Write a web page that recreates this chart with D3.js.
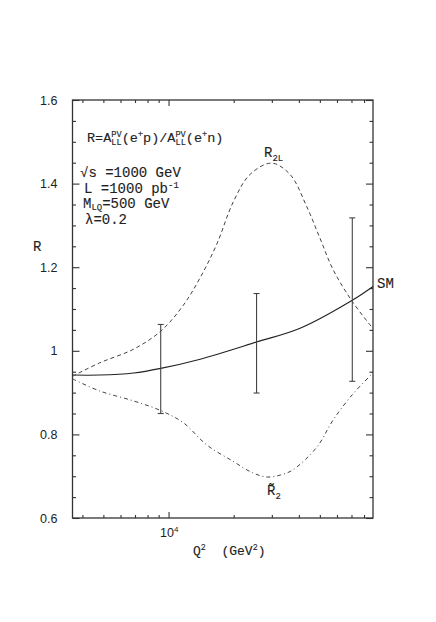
<!DOCTYPE html>
<html>
<head>
<meta charset="utf-8">
<script src="https://cdn.jsdelivr.net/npm/d3@7"></script>
<style>
  body { margin: 0; background: #fff; }
  .mono { font-family: "Liberation Mono", "DejaVu Sans Mono", monospace; fill: #222; stroke: #222; stroke-width: 0.12px; }
  .tick text { font-family: "Liberation Sans", Arial, sans-serif; font-size: 12.5px; fill: #222; }
</style>
</head>
<body>
<script>
// chart size
var w = 436;
var h = 622;

// Q^2 grid (GeV^2) and curve values
const smQ2 = [3600, 4800, 6900, 9200, 14000, 25500, 40500, 70600, 88000];
const smR = [0.942, 0.942, 0.947, 0.958, 0.980, 1.021, 1.054, 1.121, 1.154];

const r2lQ2 = [3600, 4800, 6900, 9200, 11700, 14000, 16700, 19900, 23800, 29900, 36400, 43400, 50000, 57600, 70600, 88000];
const r2lR = [0.939, 0.971, 1.004, 1.047, 1.109, 1.175, 1.255, 1.356, 1.422, 1.449, 1.422, 1.346, 1.270, 1.194, 1.118, 1.053];

const r2tQ2 = [3600, 4800, 6900, 9200, 11700, 15000, 19800, 24500, 28500, 33000, 37500, 48500, 57500, 70600, 88000];
const r2tR = [0.933, 0.904, 0.880, 0.857, 0.828, 0.775, 0.736, 0.708, 0.698, 0.703, 0.715, 0.770, 0.834, 0.895, 0.947];

// error bars (centred on SM)
const errQ2 = [9200, 25500, 70600];
const errLo = [0.850, 0.899, 0.927];
const errHi = [1.063, 1.137, 1.318];

// ticks
const yMajor = [0.6, 0.8, 1.0, 1.2, 1.4, 1.6];
const xMajor = [1e4];
const xMinor = [4000, 5000, 6000, 7000, 8000, 9000, 20000, 30000, 40000, 50000, 60000, 70000, 80000];

// plot box
const pLeft = 72.5, pRight = 373, pTop = 100, pBottom = 518;

const x = d3.scaleLog().domain([3600, 88000]).range([pLeft, pRight]);
const y = d3.scaleLinear().domain([0.6, 1.6]).range([pBottom, pTop]);

const yMinor = d3.range(0.6, 1.6001, 0.05).filter(v => !yMajor.some(m => Math.abs(m - v) < 1e-6));

const svg = d3.select("body").append("svg")
  .attr("width", w)
  .attr("height", h);

// axes, ticks pointing inward
function axis(gen, scale, vals, size, tx, ty, labels) {
  const a = gen(scale).tickValues(vals).tickSize(-size).tickPadding(size + 8);
  if (labels) a.tickFormat(labels); else a.tickFormat("");
  const g = svg.append("g").attr("transform", `translate(${tx},${ty})`).call(a);
  g.select(".domain").remove();
  g.selectAll(".tick line").attr("stroke", "#333").attr("stroke-width", 1.1);
  return g;
}

axis(d3.axisLeft, y, yMajor, 7, pLeft, 0, d3.format("~g"));
axis(d3.axisLeft, y, yMinor, 3.5, pLeft, 0);
axis(d3.axisRight, y, yMajor, 7, pRight, 0);
axis(d3.axisRight, y, yMinor, 3.5, pRight, 0);
axis(d3.axisBottom, x, xMajor, 6, 0, pBottom);
axis(d3.axisBottom, x, xMinor, 3, 0, pBottom);
axis(d3.axisTop, x, xMajor, 6, 0, pTop);
axis(d3.axisTop, x, xMinor, 3, 0, pTop);

// frame
svg.append("rect")
  .attr("x", pLeft).attr("y", pTop)
  .attr("width", pRight - pLeft).attr("height", pBottom - pTop)
  .attr("fill", "none").attr("stroke", "#333").attr("stroke-width", 1.3);

// curves
const line = d3.line()
  .x(d => x(d[0]))
  .y(d => y(d[1]))
  .curve(d3.curveCatmullRom.alpha(0.5));

const curves = [
  { q: smQ2, r: smR, dash: null, color: "#222", width: 1.1 },
  { q: r2lQ2, r: r2lR, dash: "4,3", color: "#444", width: 1 },
  { q: r2tQ2, r: r2tR, dash: "4,3,1,3", color: "#444", width: 1 }
];

svg.selectAll("path.curve")
  .data(curves)
  .enter()
  .append("path")
  .attr("class", "curve")
  .attr("d", c => line(d3.zip(c.q, c.r)))
  .attr("fill", "none")
  .attr("stroke", c => c.color)
  .attr("stroke-width", c => c.width)
  .attr("stroke-dasharray", c => c.dash);

// error bars
const errs = svg.selectAll("g.err")
  .data(errQ2.map((q, i) => ({ q: q, lo: errLo[i], hi: errHi[i] })))
  .enter()
  .append("g")
  .attr("class", "err")
  .attr("stroke", "#444")
  .attr("stroke-width", 1.1);

errs.append("line")
  .attr("x1", d => x(d.q)).attr("x2", d => x(d.q))
  .attr("y1", d => y(d.lo)).attr("y2", d => y(d.hi));
errs.append("line")
  .attr("x1", d => x(d.q) - 3).attr("x2", d => x(d.q) + 3)
  .attr("y1", d => y(d.lo)).attr("y2", d => y(d.lo));
errs.append("line")
  .attr("x1", d => x(d.q) - 3).attr("x2", d => x(d.q) + 3)
  .attr("y1", d => y(d.hi)).attr("y2", d => y(d.hi));

// text with sub/superscripts; parts: [text, "sub"|"sup"|null, dx]
function rich(px, py, size, parts, cls, subK, supK) {
  const t = svg.append("text")
    .attr("class", cls || "mono")
    .attr("x", px).attr("y", py)
    .style("font-size", size + "px");
  let off = 0;
  parts.forEach(p => {
    const target = p[1] === "sub" ? size * (subK || 0.25) : p[1] === "sup" ? -size * (supK || 0.4) : 0;
    const ts = t.append("tspan").attr("dy", target - off).text(p[0]);
    if (p[1]) ts.style("font-size", (size * 0.64) + "px");
    if (p[2]) ts.attr("dx", p[2]);
    off = target;
  });
  return t;
}

const sm = 13.5 * 0.64 * 0.6; // width of one small mono char
rich(87, 142, 13.5, [["R=A"], ["LL", "sub"], ["PV", "sup", -2 * sm], ["(e"], ["+", "sup"], ["p)/A"],
  ["LL", "sub"], ["PV", "sup", -2 * sm], ["(e"], ["+", "sup"], ["n)"]]);

rich(80, 177, 14, [["\u221As =1000 GeV"]]);
rich(84, 192.5, 14, [["L =1000 pb"], ["-1", "sup"]], null, 0.25, 0.3);
rich(83, 207.5, 14, [["M"], ["LQ", "sub"], ["=500 GeV"]], null, 0.15, 0.4);
rich(85, 223.5, 14, [["\u03BB=0.2"]]);

// curve labels
rich(264, 157, 14, [["R"], ["2L", "sub"]]);
rich(377, 288, 14, [["SM"]]);
rich(267, 495, 14, [["R\u0303"], ["2", "sub"]]);

// axis titles
rich(33, 251, 14, [["R"]]);
rich(160, 537, 12.5, [["10"], ["4", "sup"]], "tick").style("font-family", "Liberation Sans, Arial, sans-serif").style("fill", "#222");
rich(193, 555, 13, [["Q"], ["2", "sup"], ["  (GeV"], ["2", "sup"], [")"]]).attr("xml:space", "preserve");
</script>
</body>
</html>
